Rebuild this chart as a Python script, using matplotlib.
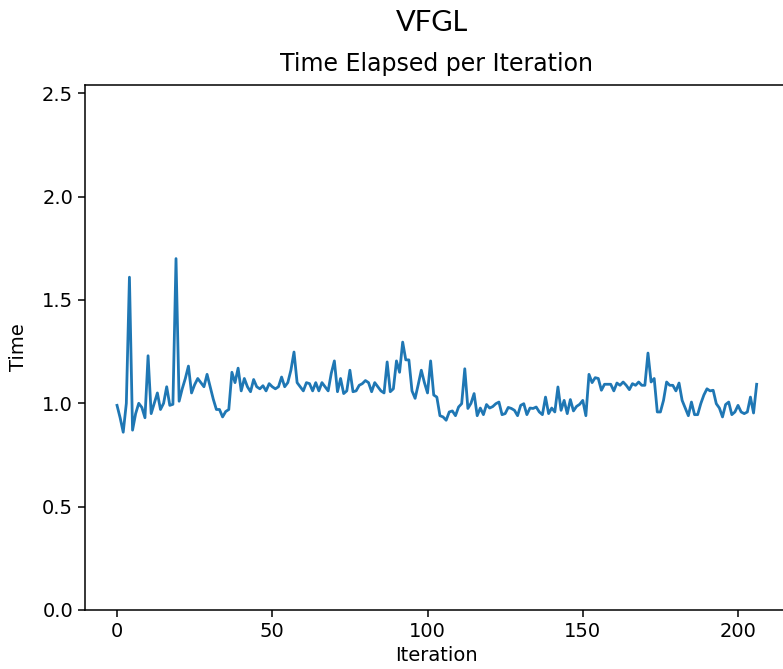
import matplotlib
matplotlib.use('Agg')
import matplotlib.pyplot as plt

# time per iteration (iterations 0..206)
timeElapsed = [
    0.99, 0.93, 0.86, 1.00, 1.61, 0.87, 0.95, 1.00, 0.98, 0.93,
    1.23, 0.95, 1.00, 1.05, 0.97, 1.00, 1.08, 0.99, 0.995, 1.70,
    1.01, 1.07, 1.12, 1.18, 1.05, 1.09, 1.12, 1.10, 1.08, 1.14,
    1.08, 1.02, 0.97, 0.97, 0.934, 0.96, 0.97, 1.15, 1.10, 1.17,
    1.06, 1.12, 1.08, 1.056, 1.115, 1.08, 1.07, 1.085, 1.06, 1.095,
    1.08, 1.07, 1.08, 1.127, 1.08, 1.10, 1.16, 1.248, 1.10, 1.08,
    1.06, 1.10, 1.095, 1.06, 1.10, 1.06, 1.10, 1.08, 1.06, 1.145,
    1.205, 1.056, 1.12, 1.047, 1.06, 1.16, 1.056, 1.06, 1.087, 1.095,
    1.11, 1.10, 1.056, 1.10, 1.08, 1.06, 1.05, 1.20, 1.056, 1.07,
    1.205, 1.15, 1.296, 1.21, 1.21, 1.06, 1.024, 1.09, 1.16, 1.10,
    1.05, 1.205, 1.04, 1.03, 0.94, 0.934, 0.918, 0.958, 0.963, 0.94,
    0.982, 0.998, 1.167, 0.975, 1.00, 1.047, 0.94, 0.977, 0.945, 0.994,
    0.977, 0.984, 0.998, 1.006, 0.945, 0.95, 0.98, 0.975, 0.966, 0.94,
    0.99, 0.998, 0.945, 0.977, 0.975, 0.982, 0.958, 0.945, 1.03, 0.95,
    0.977, 0.958, 1.079, 0.966, 1.014, 0.95, 1.018, 0.963, 0.985, 0.995,
    1.014, 0.94, 1.14, 1.10, 1.124, 1.12, 1.063, 1.092, 1.092, 1.092,
    1.06, 1.098, 1.087, 1.103, 1.087, 1.066, 1.095, 1.087, 1.103, 1.087,
    1.087, 1.243, 1.103, 1.12, 0.958, 0.958, 1.014, 1.103, 1.087, 1.087,
    1.06, 1.098, 1.014, 0.977, 0.94, 1.006, 0.945, 0.945, 0.998, 1.04,
    1.07, 1.06, 1.063, 0.998, 0.977, 0.934, 0.994, 1.006, 0.945, 0.958,
    0.99, 0.958, 0.95, 0.958, 1.03, 0.953, 1.092,
]
iterations = list(range(len(timeElapsed)))

fig = plt.figure(figsize=(7.83, 6.69), dpi=100)
# the reference is a crop: the right spine sits just past the edge
ax = fig.add_axes([0.1086, 0.0882, 0.8986, 0.7848])
ax.plot(iterations, timeElapsed, color='#1f77b4', linewidth=2.0)
ax.set_ylim(0, 2.54)
ax.set_yticks([0.0, 0.5, 1.0, 1.5, 2.0, 2.5])
ax.set_xticks([0, 50, 100, 150, 200])
ax.tick_params(labelsize=14, length=5, width=1.1)
for s in ax.spines.values():
    s.set_linewidth(1.1)
ax.set_xlabel("Iteration", fontsize=14, labelpad=4)
ax.set_ylabel("Time", fontsize=14, labelpad=10)
ax.set_title("Time Elapsed per Iteration", fontsize=17, pad=10)
fig.text(0.552, 0.965, "VFGL", ha='center', va='center', fontsize=21,
         family=['Lato', 'DejaVu Sans'])
plt.savefig('out.png', dpi=100)
